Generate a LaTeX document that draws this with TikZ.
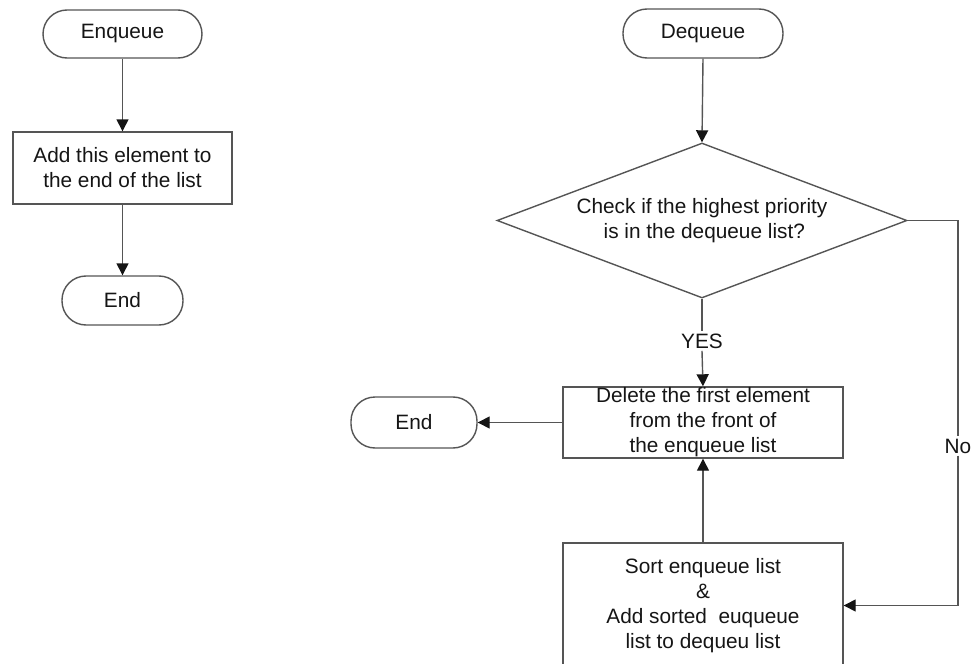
\documentclass[tikz,border=0pt]{standalone}
\usepackage{fontspec}
\setmainfont{Liberation Sans}
\usetikzlibrary{shapes.geometric,arrows.meta}
\definecolor{edge}{HTML}{555555}
\definecolor{ink}{HTML}{151515}
\tikzset{
  base/.style={draw=edge, line width=0.7pt, text=ink, align=center, inner sep=0pt,
    font=\fontsize{10.4}{12.5}\selectfont},
  terminal/.style={base, rectangle, rounded corners=12pt},
  process/.style={base, rectangle},
  decision/.style={base, diamond, aspect=2.65},
  tag/.style={text=ink, inner sep=1pt, font=\fontsize{10.4}{12.5}\selectfont},
  flow/.style={draw=edge, line width=0.7pt},
  arrow/.style={flow, -{Triangle[length=6pt,width=6pt,color=ink,fill=ink]}}
}
\begin{document}
\begin{tikzpicture}[x=0.5pt,y=-0.5pt]
\useasboundingbox (0,0) rectangle (971,664);
\clip (0,0) rectangle (971,664);

% Enqueue flow
\node[terminal, minimum width=79.5pt, minimum height=24pt] (enq) at (122.5,34) {Enqueue};
\node[process, minimum width=109.5pt, minimum height=36pt] (add) at (122.5,168)
  {Add this element to\\the end of the list};
\node[terminal, minimum width=60.5pt, minimum height=24.5pt] (endA) at (122.5,300.5) {End};

\draw[arrow] (enq.south) -- (add.north);
\draw[arrow] (add.south) -- (endA.north);

% Dequeue flow
\node[terminal, minimum width=80pt, minimum height=24.5pt] (deq) at (703,33.5) {Dequeue};
\node[decision, minimum width=205pt, minimum height=77.5pt] (chk) at (702,220.5)
  {Check if the highest priority\\\phantom{i}is in the dequeue list?};
\node[process, minimum width=140pt, minimum height=35.5pt] (del) at (703,422.5)
  {Delete the first element\\from the front of\\the enqueue list};
\node[terminal, minimum width=63pt, minimum height=25.5pt] (endB) at (414,422.5) {End};
\node[process, minimum width=140pt, minimum height=62.5pt] (sort) at (703,605.5)
  {Sort enqueue list\\\&\\Add sorted\ \ euqueue\\list to dequeu list};

\node[tag] (yes) at (702,341) {YES};
\node[tag] (no) at (958,446) {No};

\draw[arrow] (deq.south) -- (chk.north);
\draw[flow] (chk.south) -- (yes.north);
\draw[arrow] (yes.south) -- (del.north);
\draw[arrow] (del.west) -- (endB.east);
\draw[arrow] (sort.north) -- (del.south);
\draw[flow] (chk.east) -- (chk.east -| no) -- (no.north);
\draw[arrow] (no.south) |- (sort.east);
\end{tikzpicture}
\end{document}
